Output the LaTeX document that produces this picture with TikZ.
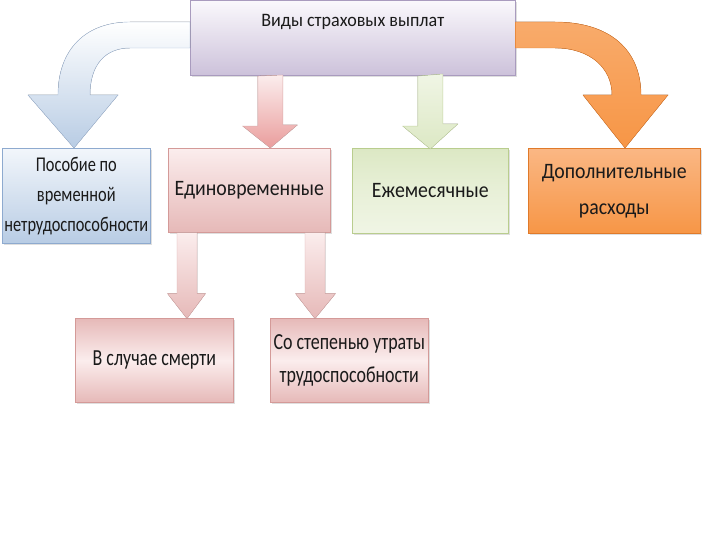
\documentclass[tikz,border=0pt]{standalone}
\usepackage{fontspec}
\setmainfont{Carlito}
\newfontfamily\famA[FakeStretch=0.95]{Carlito}
\newfontfamily\famB[FakeStretch=0.9]{Carlito}
\newfontfamily\famC[FakeStretch=0.78]{Carlito}
\usetikzlibrary{calc,shadows}
\definecolor{txt}{HTML}{1A1A1A}
\definecolor{purT}{HTML}{FAF8FC}
\definecolor{purB}{HTML}{CCC1DA}
\definecolor{purD}{HTML}{A99BBE}
\definecolor{bluT}{HTML}{F2F6FB}
\definecolor{bluB}{HTML}{B8CCE4}
\definecolor{bluD}{HTML}{8EAACF}
\definecolor{pnkT}{HTML}{FBEDED}
\definecolor{pnkB}{HTML}{E6B9B8}
\definecolor{pnkD}{HTML}{D49A98}
\definecolor{grnT}{HTML}{DCE8C4}
\definecolor{grnB}{HTML}{F0F5E5}
\definecolor{grnD}{HTML}{B9CD8E}
\definecolor{orT}{HTML}{FAB784}
\definecolor{orB}{HTML}{F79646}
\definecolor{orD}{HTML}{E07A2A}
\begin{document}
\begin{tikzpicture}[x=1pt,y=-1pt,
  box/.style={draw, rectangle, anchor=north west, inner sep=0pt, align=center,
    text=txt, line width=0.6pt,
    drop shadow={opacity=0.25, shadow xshift=1.5pt, shadow yshift=-1.5pt}},
  lbl/.style={text=txt, align=center, inner sep=0pt},
  blkarrow/.style={line width=0.4pt}]
\useasboundingbox (0,0) rectangle (720,540);
\fill[white] (0,0) rectangle (720,540);

% boxes
\node[box, draw=purD, top color=purT, bottom color=purB,
  minimum width=325pt, minimum height=75pt] (top) at (190,0.5) {};
\node[lbl, font=\famA\fontsize{19}{22}\selectfont] (toptext) at ($(top.north)+(0,21)$) {Виды страховых выплат};

\node[box, draw=bluD, top color=bluT, bottom color=bluB,
  minimum width=148pt, minimum height=95pt,
  font=\famC\fontsize{21}{30}\selectfont] (posob) at (2,148)
  {Пособие по\\временной\\нетрудоспособности};

\node[box, draw=pnkD, top color=pnkT, bottom color=pnkB,
  minimum width=162pt, minimum height=84pt,
  font=\famB\fontsize{22}{26}\selectfont] (edin) at (168,148) {Единовременные};

\node[box, draw=grnD, top color=grnT, bottom color=grnB, middle color=grnB!60!grnT,
  minimum width=156pt, minimum height=85pt,
  font=\famB\fontsize{22}{26}\selectfont] (ezhe) at (352,148) {Ежемесячные};

\node[box, draw=orD, top color=orT, bottom color=orB,
  minimum width=172pt, minimum height=85pt,
  font=\famB\fontsize{22}{36}\selectfont] (dop) at (528,148) {Дополнительные\\расходы};

\node[box, draw=pnkD, top color=pnkB, bottom color=pnkB, middle color=pnkT,
  minimum width=158pt, minimum height=84pt,
  font=\famC\fontsize{23}{27}\selectfont] (smert) at (75,318) {В случае смерти};

\node[box, draw=pnkD, top color=pnkB, bottom color=pnkB, middle color=pnkT,
  minimum width=158pt, minimum height=84pt,
  font=\famC\fontsize{23}{33}\selectfont] (stepen) at (270,318) {Со степенью утраты\\трудоспособности};

% straight block arrows
\coordinate (t1) at ($(edin.north)+(21,0)$);
\fill[blkarrow, top color=pnkT, bottom color=pnkB!85!red, draw=pnkD!80]
  ($(top.south -| t1)+(-12.5,0)$) -- ++(0,50) -- ++(-15,0) -- (t1) -- ++(27,-23) -- ++(-14.5,0) -- ++(0,-50) -- cycle;
\coordinate (t2) at ($(ezhe.north)+(0,1)$);
\fill[blkarrow, top color=grnB, bottom color=grnT, draw=grnD!80]
  ($(top.south -| t2)+(-12.5,0)$) -- ++(0,50) -- ++(-15,0) -- (t2) -- ++(27.5,-25) -- ++(-15,0) -- ++(0,-50) -- cycle;

\coordinate (t3) at ($(edin.south west)+(19,86)$);
\fill[blkarrow, top color=pnkT, bottom color=pnkB, draw=pnkD!80]
  ($(edin.south -| t3)+(-10,0)$) -- ++(0,61) -- ++(-9.5,0) -- (t3) -- ++(18.5,-25) -- ++(-8.5,0) -- ++(0,-61) -- cycle;
\coordinate (t4) at ($(edin.south west)+(147,86)$);
\fill[blkarrow, top color=pnkT, bottom color=pnkB, draw=pnkD!80]
  ($(edin.south -| t4)+(-10,0)$) -- ++(0,61) -- ++(-9.5,0) -- (t4) -- ++(20.5,-25) -- ++(-10.5,0) -- ++(0,-61) -- cycle;

% curved arrow to blue box
\coordinate (tb) at ($(posob.north west)+(72,0)$);
\fill[blkarrow, top color=white, bottom color=bluB, draw=bluD!80]
  ($(top.north west)+(0,21.5)$) -- (130,22)
  .. controls (85,22) and (58,50) .. (58,95) -- (28,95) -- (tb) -- (118,95) -- (90,95)
  .. controls (90,65) and (105,48) .. (130,48) -- ($(top.north west)+(0,47.5)$) -- cycle;

% curved arrow to orange box
\coordinate (to) at ($(dop.north west)+(97,0)$);
\fill[blkarrow, top color=orB!80!white, bottom color=orB, draw=orD]
  ($(top.north east)+(0,21.5)$) -- (555,22)
  .. controls (610,22) and (641,50) .. (641,95) -- (668,95) -- (to) -- (583,95) -- (612,95)
  .. controls (612,68) and (590,48) .. (555,48) -- ($(top.north east)+(0,47.5)$) -- cycle;
\end{tikzpicture}
\end{document}
